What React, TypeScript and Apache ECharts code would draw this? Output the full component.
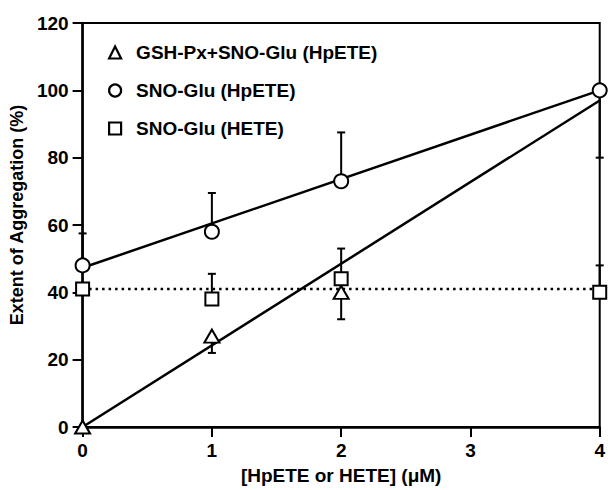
import React, { useEffect, useRef } from "react";
import * as echarts from "echarts";

// Data
const concentrations = [0, 1, 2, 4];
const gshPxHpete: (number | null)[] = [0, 27, 40, null];
const snoGluHpete = [48, 58, 73, 100];
const snoGluHete = [41, 38, 44, 40];

// error bar end values (one-sided, as drawn)
const gshPxHpeteErrEnd: (number | null)[] = [null, 22, 32, null];
const snoGluHpeteErrEnd: (number | null)[] = [57.5, 69.5, 87.5, 80];
const snoGluHeteErrEnd: (number | null)[] = [null, 45.5, 53, 48];

// fitted lines (end points)
const gshPxFit = [[0, 0], [4, 97]];
const snoGluHpeteFit = [[0, 47.3], [4, 100]];
const snoGluHeteFit = [[0, 41], [4, 41]];

const seriesNames = ["GSH-Px+SNO-Glu (HpETE)", "SNO-Glu (HpETE)", "SNO-Glu (HETE)"];
const xTickValues = [0, 1, 2, 3, 4];
const yTickValues = [0, 20, 40, 60, 80, 100, 120];

const FONT = "'Liberation Sans', Arial, Helvetica, sans-serif";

function pts(vals: (number | null)[]) {
  return concentrations
    .map((x, i) => [x, vals[i]])
    .filter((p) => p[1] !== null);
}
function errPts(vals: (number | null)[], ends: (number | null)[]) {
  return concentrations
    .map((x, i) => [x, vals[i], ends[i]])
    .filter((p) => p[1] !== null && p[2] !== null);
}

export default function App() {
  const ref = useRef<HTMLDivElement>(null);
  useEffect(() => {
    if (!ref.current) return;
    const chart = echarts.init(ref.current, undefined, { renderer: "svg" });
    const errRender = (params: any, api: any) => {
      const x = api.value(0);
      const y = api.value(1);
      const e = api.value(2);
      const p0 = api.coord([x, y]);
      const p1 = api.coord([x, e]);
      const style = { stroke: "#000", lineWidth: 2 };
      return {
        type: "group",
        children: [
          { type: "line", shape: { x1: p0[0], y1: p0[1], x2: p1[0], y2: p1[1] }, style },
          { type: "line", shape: { x1: p1[0] - 4, y1: p1[1], x2: p1[0] + 4, y2: p1[1] }, style },
        ],
      };
    };
    const markerStyle = { color: "#fff", borderColor: "#000", borderWidth: 2, opacity: 1 };
    const legendMarkerStyle = { color: "#fff", borderColor: "#000", borderWidth: 2.2, opacity: 1 };
    const option: any = {
      animation: false,
      backgroundColor: "#fff",
      grid: {
        left: 82,
        right: 5,
        top: 23,
        bottom: 58,
        show: true,
        borderColor: "#000",
        borderWidth: 2,
        backgroundColor: "transparent",
      },
      legend: {
        orient: "vertical",
        left: 103,
        top: 38,
        itemWidth: 12,
        itemHeight: 12,
        itemGap: 19,
        textStyle: {
          fontFamily: FONT,
          fontSize: 19,
          fontWeight: "bold",
          color: "#000",
          padding: [0, 0, 0, 10],
        },
        data: [
          { name: seriesNames[0], icon: "triangle", itemStyle: legendMarkerStyle },
          { name: seriesNames[1], icon: "circle", itemStyle: legendMarkerStyle },
          { name: seriesNames[2], icon: "rect", itemStyle: legendMarkerStyle },
        ],
      },
      xAxis: {
        type: "value",
        min: 0,
        max: 4,
        interval: 1,
        name: "[HpETE or HETE] (μM)",
        nameLocation: "middle",
        nameGap: 39,
        nameTextStyle: { fontFamily: FONT, fontSize: 19, fontWeight: "bold", color: "#000" },
        axisLine: { onZero: false, lineStyle: { color: "#000", width: 2.5 } },
        axisTick: { show: true, inside: false, length: 10, lineStyle: { color: "#000", width: 2 } },
        axisLabel: {
          fontFamily: FONT,
          fontSize: 19,
          fontWeight: "bold",
          color: "#000",
          margin: 14,
          showMinLabel: true,
          showMaxLabel: true,
          formatter: (v: number) => (xTickValues.includes(v) ? String(v) : ""),
        },
        splitLine: { show: false },
      },
      yAxis: {
        type: "value",
        min: 0,
        max: 120,
        interval: 20,
        name: "Extent of Aggregation (%)",
        nameLocation: "middle",
        nameGap: 53,
        nameTextStyle: {
          fontFamily: FONT,
          fontSize: 18,
          fontWeight: "bold",
          color: "#000",
          padding: [0, 0, 0, 20],
        },
        axisLine: { onZero: false, lineStyle: { color: "#000", width: 2.5 } },
        axisTick: { show: true, inside: false, length: 10, lineStyle: { color: "#000", width: 2 } },
        axisLabel: {
          fontFamily: FONT,
          fontSize: 19,
          fontWeight: "bold",
          color: "#000",
          margin: 14,
          formatter: (v: number) => (yTickValues.includes(v) ? String(v) : ""),
        },
        splitLine: { show: false },
      },
      series: [
        // fit lines
        {
          type: "line",
          data: gshPxFit,
          symbol: "none",
          lineStyle: { color: "#000", width: 2.5 },
          silent: true,
          z: 3,
          clip: false,
        },
        {
          type: "line",
          data: snoGluHpeteFit,
          symbol: "none",
          lineStyle: { color: "#000", width: 2.5 },
          silent: true,
          z: 3,
          clip: false,
        },
        {
          type: "line",
          data: snoGluHeteFit,
          symbol: "none",
          lineStyle: { color: "#000", width: 2.5, type: [2.5, 4] },
          silent: true,
          z: 3,
          clip: false,
        },
        // error bars
        {
          type: "custom",
          renderItem: errRender,
          data: errPts(gshPxHpete, gshPxHpeteErrEnd),
          z: 2,
          clip: false,
        },
        {
          type: "custom",
          renderItem: errRender,
          data: errPts(snoGluHpete, snoGluHpeteErrEnd),
          z: 2,
          clip: false,
        },
        {
          type: "custom",
          renderItem: errRender,
          data: errPts(snoGluHete, snoGluHeteErrEnd),
          z: 2,
          clip: false,
        },
        // markers
        {
          name: seriesNames[0],
          type: "scatter",
          symbol: "triangle",
          symbolSize: [15, 13],
          data: pts(gshPxHpete),
          itemStyle: markerStyle,
          z: 5,
          clip: false,
        },
        {
          name: seriesNames[1],
          type: "scatter",
          symbol: "circle",
          symbolSize: 14,
          data: pts(snoGluHpete),
          itemStyle: markerStyle,
          z: 5,
          clip: false,
        },
        {
          name: seriesNames[2],
          type: "scatter",
          symbol: "rect",
          symbolSize: 13,
          data: pts(snoGluHete),
          itemStyle: markerStyle,
          z: 5,
          clip: false,
        },
      ],
    };
    chart.setOption(option);
    return () => chart.dispose();
  }, []);
  return (
    <div
      ref={ref}
      style={{ position: "fixed", left: 0, top: 0, width: 608, height: 490, background: "#fff" }}
    />
  );
}
